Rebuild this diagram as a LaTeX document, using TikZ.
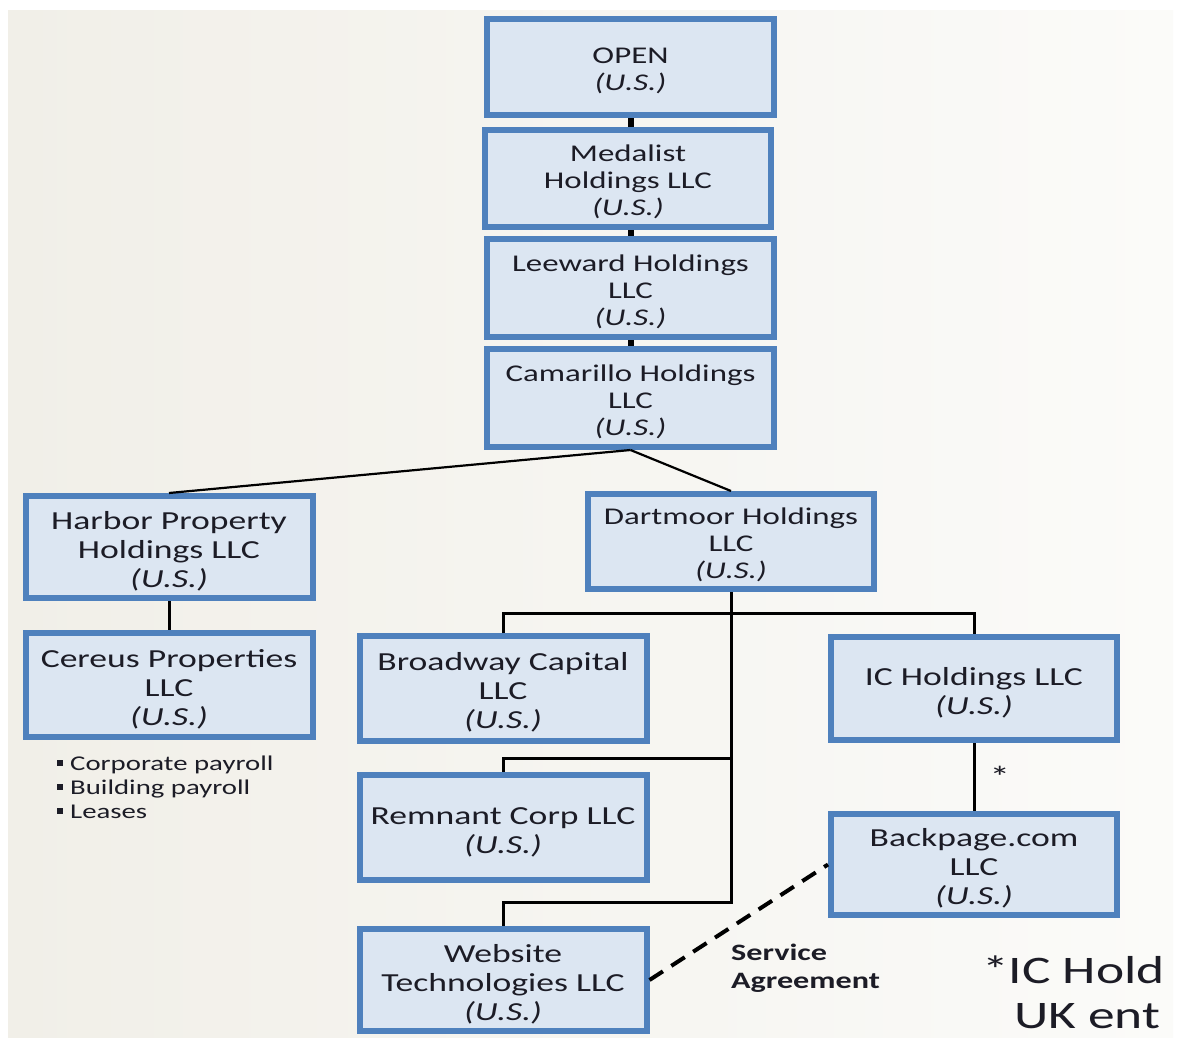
\documentclass[tikz,border=0pt]{standalone}
\usepackage{fontspec}
\setmainfont{Carlito}[FakeStretch=1.37]
\usetikzlibrary{calc}

\definecolor{boxblue}{HTML}{4F81BD}
\definecolor{boxfill}{HTML}{DCE6F2}
\definecolor{pageleft}{HTML}{F1EFE8}
\definecolor{pageright}{HTML}{FBFBF9}
\definecolor{ink}{HTML}{1C1C26}

\newcommand{\bigsize}{\fontsize{26}{29}\selectfont}
\newcommand{\midsize}{\fontsize{24}{27}\selectfont}
\newcommand{\lift}{\rule{0pt}{1em}}
\newcommand{\us}{\textit{(U.S.)}}
\newcommand{\sqbullet}{\rule[5pt]{6pt}{6pt}\hspace{7pt}}

\begin{document}
\begin{tikzpicture}[x=1pt, y=-1pt,
	entity/.style={draw=boxblue, line width=6pt, fill=boxfill, text=ink, align=center, minimum width=287pt, minimum height=100pt, inner sep=0pt, outer sep=3pt, font=\bigsize},
	chain/.style={line width=6pt},
	link/.style={line width=3pt},
	thinlink/.style={line width=2.2pt},
	contract/.style={line width=4pt, dash pattern=on 16pt off 10pt}]
	\useasboundingbox[fill=white] (0,0) rectangle (1179,1037);
	\shade[left color=pageleft, right color=pageright] (8,10) rectangle (1173,1037);
	
	\node[entity, minimum height=96pt, font=\midsize] (open) at (630.5,67) {\lift OPEN\\\us};
	\node[entity, minimum width=286pt, minimum height=97pt, font=\midsize] (medalist) at (628,178.5) {\lift Medalist\\Holdings LLC\\\us};
	\node[entity, minimum height=98pt, font=\midsize] (leeward) at (630.5,288) {\lift Leeward Holdings\\LLC\\\us};
	\node[entity, minimum height=98pt, font=\midsize] (camarillo) at (630.5,398) {\lift Camarillo Holdings\\LLC\\\us};
	
	\node[entity, minimum height=102pt] (harbor) at (169,547) {\lift Harbor Property\\Holdings LLC\\\us};
	\node[entity, minimum height=104pt] (cereus) at (169,685) {\lift Cereus Properties\\LLC\\\us};
	\node[entity, minimum width=286pt, minimum height=95pt, font=\midsize] (dartmoor) at (731,541.5) {\lift Dartmoor Holdings\\LLC\\\us};
	
	\node[entity, minimum height=105pt] (broadway) at (503,688.5) {\lift Broadway Capital\\LLC\\\us};
	\node[entity, minimum width=286pt, minimum height=103pt] (icholdings) at (974,688.5) {\lift IC Holdings LLC\\\us};
	\node[entity, minimum height=105pt] (remnant) at (503,827.5) {\lift Remnant Corp LLC\\\us};
	\node[entity, minimum width=286pt, minimum height=101pt] (backpage) at (974,864.5) {\lift Backpage.com\\LLC\\\us};
	\node[entity, minimum height=102pt] (website) at (503,980) {\lift Website\\Technologies LLC\\\us};
	
	\draw[chain] (open.south) -- (open.south |- medalist.north);
	\draw[chain] (leeward.north |- medalist.south) -- (leeward.north);
	\draw[chain] (leeward.south) -- (camarillo.north);
	\draw[thinlink] (camarillo.south) -- (harbor.north);
	\draw[thinlink] (camarillo.south) -- (dartmoor.north);
	\draw[link] (harbor.south) -- (cereus.north);
	\draw[link] (dartmoor.south) |- (website.north |- 0,902) -- (website.north);
	\draw[link] (broadway.north) |- (icholdings.north |- 0,613) -- (icholdings.north);
	\draw[link] (remnant.north) |- (dartmoor.south |- 0,758);
	\draw[link] (icholdings.south) -- node[right=14pt, inner sep=0pt, font=\fontsize{30}{30}\selectfont, text=ink] (star) {*} (backpage.north);
	\draw[contract] (website.east) -- (backpage.west);
	
	\node[font=\fontsize{23.5}{28}\selectfont\bfseries, text=ink, align=left, anchor=west, inner sep=0pt] (service) at (731,968) {Service\\Agreement};
	\node[font=\fontsize{21}{24}\selectfont, text=ink, align=left, anchor=north west, inner sep=0pt] (duties) at (57,756) {\sqbullet Corporate payroll\\\sqbullet Building payroll\\\sqbullet Leases};
	
	\begin{scope}
		\clip (8,10) rectangle (1173,1037);
		\node[font=\fontsize{39}{45}\selectfont, text=ink, anchor=base west, inner sep=0pt] (note) at (982,983) {*IC Hold};
		\node[font=\fontsize{39}{45}\selectfont, text=ink, anchor=base west, inner sep=0pt] (notetwo) at (1014,1028) {UK ent};
	\end{scope}
\end{tikzpicture}
\end{document}
